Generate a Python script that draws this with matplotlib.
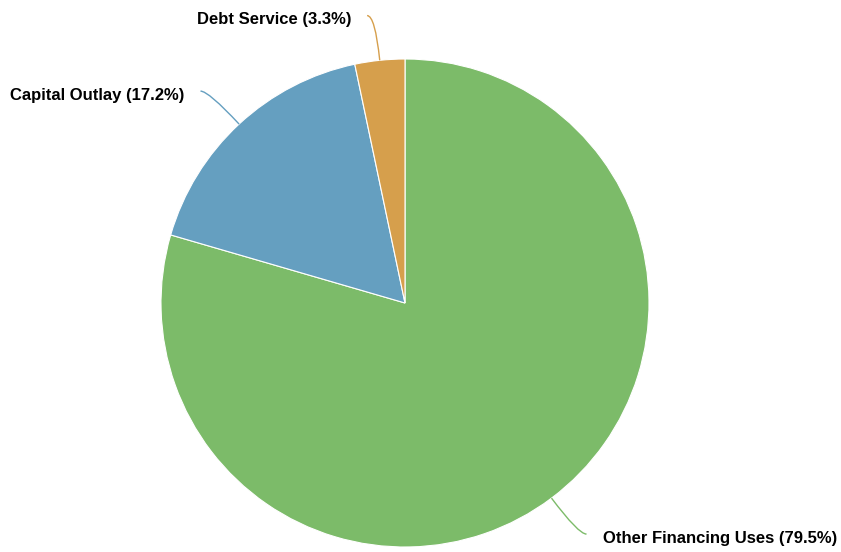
import numpy as np
import matplotlib.pyplot as plt
from matplotlib.path import Path
from matplotlib.patches import PathPatch

categories = ["Other Financing Uses", "Capital Outlay", "Debt Service"]
values = [79.5, 17.2, 3.3]
colors = ["#7cbb69", "#659fc0", "#d69f4c"]

W, H = 841, 552
fig = plt.figure(figsize=(W / 100, H / 100), dpi=100)
ax = fig.add_axes([0, 0, 1, 1])
ax.set_xlim(0, W)
ax.set_ylim(0, H)
ax.set_aspect("equal")
ax.axis("off")

cx, cy, R = 405, 249, 244
wedges, _ = ax.pie(values, colors=colors, startangle=90, counterclock=False,
                   center=(cx, cy), radius=R, frame=True,
                   wedgeprops=dict(edgecolor="white", linewidth=0.8))
ax.set_xlim(0, W)
ax.set_ylim(0, H)
ax.axis("off")

total = sum(values)
cum = 0
for cat, v, col in zip(categories, values, colors):
    mid = cum + v / 2
    cum += v
    ang = np.deg2rad(90 - mid / total * 360)
    p0 = (cx + R * np.cos(ang), cy + R * np.sin(ang))
    r1 = R + 45
    p1 = (cx + r1 * np.cos(ang), cy + r1 * np.sin(ang))
    side = 1 if np.cos(ang) >= 0 else -1
    p2 = (p1[0] + side * 8, p1[1])
    path = Path([p0, p1, p2], [Path.MOVETO, Path.CURVE3, Path.CURVE3])
    ax.add_patch(PathPatch(path, facecolor="none", edgecolor=col, lw=1.0))
    ax.text(p1[0] + side * 24, p1[1] - 4, f"{cat} ({v}%)",
            ha="left" if side > 0 else "right", va="center",
            fontsize=12, fontweight="bold", family="Liberation Sans", color="#000000")

fig.savefig("out.png", dpi=100)
